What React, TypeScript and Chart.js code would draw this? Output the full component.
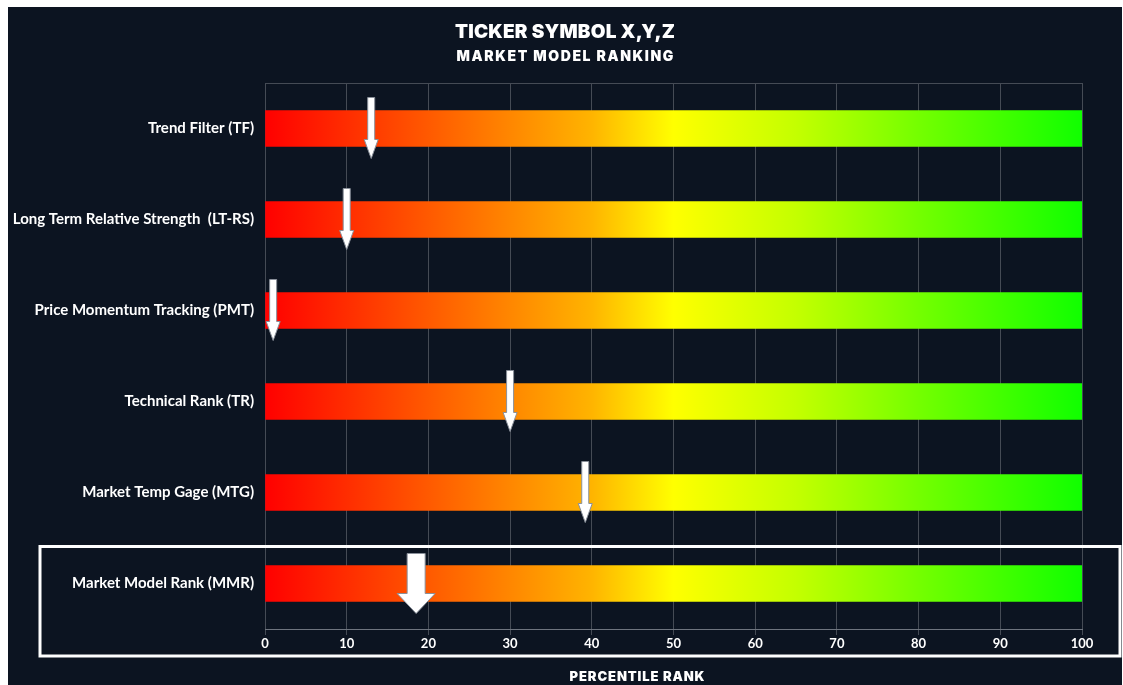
import React, { useEffect, useRef } from "react";
import { Chart, registerables } from "chart.js";

Chart.register(...registerables);

const categories = [
  "Trend Filter (TF)",
  "Long Term Relative Strength  (LT-RS)",
  "Price Momentum Tracking (PMT)",
  "Technical Rank (TR)",
  "Market Temp Gage (MTG)",
  "Market Model Rank (MMR)",
];
const scaleMax = [100, 100, 100, 100, 100, 100];
const rankValues = [13, 10, 1, 30, 39.2, 18.5];
const xTicks = [0, 10, 20, 30, 40, 50, 60, 70, 80, 90, 100];
const titleText = "TICKER SYMBOL X,Y,Z";
const subtitleText = "MARKET MODEL RANKING";
const xAxisTitle = "PERCENTILE RANK";

const BG = "#0c1421";
const GRID = "#454b55";
const HEAD_FONT = "Inter";

const gradientStops: [number, string][] = [
  [0, "#ff0000"],
  [0.25, "#ff7000"],
  [0.4, "#ffb400"],
  [0.5, "#ffff00"],
  [0.65, "#c4ff00"],
  [0.8, "#74ff00"],
  [1, "#10ff00"],
];

function drawSpaced(ctx: any, text: string, x: number, y: number, font: string, spacing: number) {
  ctx.font = font;
  if ("letterSpacing" in ctx) {
    ctx.letterSpacing = `${spacing}px`;
    ctx.fillText(text, x + spacing / 2, y);
    ctx.letterSpacing = "0px";
  } else {
    ctx.fillText(text, x, y);
  }
}

const overlayPlugin = {
  id: "overlay",
  beforeDraw(chart: any) {
    const { ctx, width, height } = chart;
    ctx.save();
    ctx.fillStyle = BG;
    ctx.fillRect(0, 0, width, height);
    ctx.restore();
  },
  beforeDatasetsDraw(chart: any) {
    const { ctx, chartArea } = chart;
    ctx.save();
    ctx.strokeStyle = GRID;
    ctx.lineWidth = 1;
    ctx.beginPath();
    ctx.moveTo(chartArea.left, chartArea.top + 0.5);
    ctx.lineTo(chartArea.right, chartArea.top + 0.5);
    ctx.stroke();
    ctx.restore();
  },
  afterDatasetsDraw(chart: any) {
    const { ctx } = chart;
    const xs = chart.scales.x;
    const ys = chart.scales.y;
    ctx.save();
    rankValues.forEach((v, i) => {
      const x = xs.getPixelForValue(v);
      const yc = ys.getPixelForValue(i);
      const big = i === rankValues.length - 1;
      const sw = big ? 18 : 7;
      const hw = big ? 38 : 14;
      const top = yc - (big ? 30 : 31);
      const hs = yc + (big ? 10 : 11);
      const tip = yc + 30;
      ctx.beginPath();
      ctx.moveTo(x - sw / 2, top);
      ctx.lineTo(x + sw / 2, top);
      ctx.lineTo(x + sw / 2, hs);
      ctx.lineTo(x + hw / 2, hs);
      ctx.lineTo(x, tip);
      ctx.lineTo(x - hw / 2, hs);
      ctx.lineTo(x - sw / 2, hs);
      ctx.closePath();
      ctx.fillStyle = "#ffffff";
      ctx.fill();
      ctx.strokeStyle = "#8a909a";
      ctx.lineWidth = 1;
      ctx.stroke();
    });
    ctx.restore();
  },
  afterDraw(chart: any) {
    const { ctx, chartArea, width } = chart;
    const ys = chart.scales.y;
    const yc = ys.getPixelForValue(categories.length - 1);
    ctx.save();
    ctx.strokeStyle = "#ffffff";
    ctx.lineWidth = 3;
    const top = yc - 37;
    const bottom = chartArea.bottom + 27;
    ctx.strokeRect(32, top, width - 2 - 32, bottom - top);

    ctx.fillStyle = "#ffffff";
    ctx.textAlign = "center";
    ctx.textBaseline = "middle";
    drawSpaced(ctx, titleText, width / 2, 25, `900 19px ${HEAD_FONT}`, 0.2);
    drawSpaced(ctx, subtitleText, width / 2, 49.5, `900 14px ${HEAD_FONT}`, 1.6);
    drawSpaced(ctx, xAxisTitle, 629, 670, `900 13px ${HEAD_FONT}`, 0.9);
    ctx.restore();
  },
};

export default function App() {
  const ref = useRef<HTMLCanvasElement | null>(null);
  useEffect(() => {
    if (!ref.current) return;
    const chart = new Chart(ref.current, {
      type: "bar",
      data: {
        labels: categories,
        datasets: [
          {
            data: scaleMax,
            barThickness: 36,
            backgroundColor: (context: any) => {
              const { chart } = context;
              const { ctx, chartArea } = chart;
              if (!chartArea) return "#ff0000";
              const g = ctx.createLinearGradient(chartArea.left, 0, chartArea.right, 0);
              gradientStops.forEach(([o, c]) => g.addColorStop(o, c));
              return g;
            },
            borderWidth: 0,
          },
        ],
      },
      options: {
        indexAxis: "y",
        responsive: false,
        animation: false,
        layout: { padding: { left: 0, right: 40, top: 76, bottom: 0 } },
        plugins: {
          legend: { display: false },
          tooltip: { enabled: false },
          title: { display: false },
        },
        scales: {
          x: {
            type: "linear",
            min: 0,
            max: 100,
            afterBuildTicks: (scale: any) => {
              scale.ticks = xTicks.map((v) => ({ value: v }));
            },
            afterFit: (scale: any) => {
              scale.height = 56;
            },
            grid: { color: GRID, lineWidth: 1, tickLength: 6, drawTicks: true },
            border: { color: "#6e747e", width: 1 },
            ticks: {
              color: "#ffffff",
              padding: 1,
              maxRotation: 0,
              font: { family: "Lato", weight: "bold", size: 13 },
            },
            title: { display: false },
          },
          y: {
            type: "category",
            afterFit: (scale: any) => {
              scale.width = 257;
            },
            grid: { display: false, drawTicks: false },
            border: { display: false },
            ticks: {
              color: "#ffffff",
              padding: 11,
              font: { family: "Lato", weight: "bold", size: 15 },
            },
          },
        },
      },
      plugins: [overlayPlugin],
    } as any);
    return () => chart.destroy();
  }, []);
  return (
    <div style={{ position: "fixed", left: 8, top: 7, width: 1114, height: 678 }}>
      <canvas ref={ref} width={1114} height={678} style={{ display: "block" }} />
    </div>
  );
}
